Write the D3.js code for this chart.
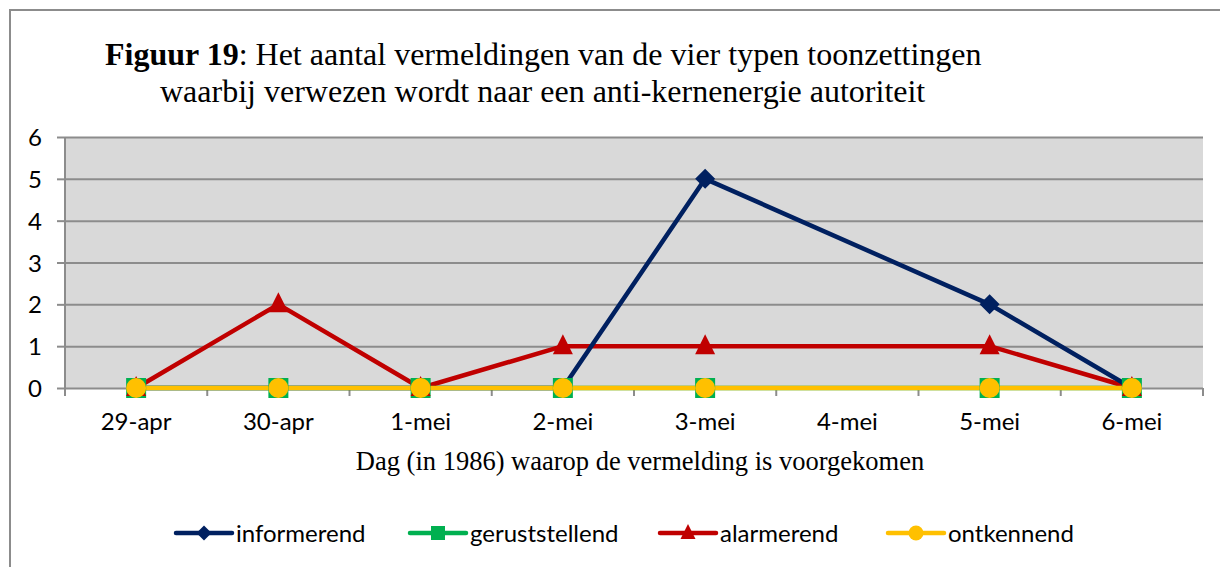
<!DOCTYPE html>
<html>
<head>
<meta charset="utf-8">
<script src="https://cdn.jsdelivr.net/npm/d3@7"></script>
<style>
  body { margin: 0; background: #fff; }
  svg { display: block; }
</style>
</head>
<body>
<div id="chart"></div>
<script>
var days = ["29-apr", "30-apr", "1-mei", "2-mei", "3-mei", "4-mei", "5-mei", "6-mei"];
var yTicks = [0, 1, 2, 3, 4, 5, 6];

// 4-mei has no values, the lines run straight over it
var informerend    = [0, 0, 0, 0, 5, null, 2, 0];
var geruststellend = [0, 0, 0, 0, 0, null, 0, 0];
var alarmerend     = [0, 2, 0, 1, 1, null, 1, 0];
var ontkennend     = [0, 0, 0, 0, 0, null, 0, 0];

var series = [
  { name: "informerend", values: informerend, color: "#002060", shape: "diamond", lineOrder: 2 },
  { name: "geruststellend", values: geruststellend, color: "#00b050", shape: "square", lineOrder: 0 },
  { name: "alarmerend", values: alarmerend, color: "#c00000", shape: "triangle", lineOrder: 1 },
  { name: "ontkennend", values: ontkennend, color: "#ffc000", shape: "circle", lineOrder: 3 }
];

var width = 1220, height = 567;
var plot = { left: 65, right: 1203, top: 137, bottom: 388 };
var sans = "Lato, 'Open Sans', sans-serif";
var serif = "'Liberation Serif', 'Times New Roman', serif";

var svg = d3.select("#chart").append("svg")
    .attr("width", width)
    .attr("height", height);

// frame
svg.append("path")
  .attr("d", "M10,567 L10,10 L1220,10")
  .attr("fill", "none")
  .attr("stroke", "#8c8c8c")
  .attr("stroke-width", 2);

// title
var title = svg.append("text")
  .attr("font-family", serif)
  .attr("font-size", 32)
  .attr("fill", "#000");
title.append("tspan").attr("x", 105).attr("y", 65).attr("font-weight", "bold").text("Figuur 19");
title.append("tspan").text(": Het aantal vermeldingen van de vier typen toonzettingen");
title.append("tspan").attr("x", 160).attr("y", 102).text("waarbij verwezen wordt naar een anti-kernenergie autoriteit");

var x = d3.scaleBand().domain(days).range([plot.left, plot.right]);
var y = d3.scaleLinear().domain([0, 6]).range([plot.bottom, plot.top]);

// plot background
svg.append("rect")
  .attr("x", plot.left).attr("y", plot.top)
  .attr("width", plot.right - plot.left)
  .attr("height", plot.bottom - plot.top)
  .attr("fill", "#d9d9d9");

// y axis with gridlines
var yAxis = svg.append("g")
  .attr("transform", "translate(" + plot.left + ",0)")
  .call(d3.axisLeft(y).tickValues(yTicks).tickSize(8).tickPadding(22).tickFormat(d3.format("d")));
yAxis.select(".domain").remove();
yAxis.selectAll(".tick line").attr("stroke", "#8c8c8c").attr("stroke-width", 2);
yAxis.selectAll(".tick").append("line")
  .attr("x1", 0).attr("x2", plot.right - plot.left)
  .attr("stroke", "#8c8c8c").attr("stroke-width", 2);
yAxis.selectAll("text")
  .attr("font-family", sans)
  .attr("font-size", 24)
  .attr("fill", "#000")
  .attr("text-anchor", "middle")
  .attr("dy", "0.36em");

// y axis line, runs down to the tick length
svg.append("line")
  .attr("x1", plot.left).attr("x2", plot.left)
  .attr("y1", plot.top).attr("y2", plot.bottom + 8)
  .attr("stroke", "#8c8c8c").attr("stroke-width", 2);

// x axis: ticks between the categories
var xAxis = svg.append("g")
  .attr("transform", "translate(0," + plot.bottom + ")")
  .call(d3.axisBottom(x).tickSize(0).tickPadding(24));
xAxis.select(".domain").remove();
xAxis.selectAll("text")
  .attr("font-family", sans)
  .attr("font-size", 24)
  .attr("fill", "#000")
  .attr("y", 42)
  .attr("dy", null);
svg.append("g").selectAll("line")
  .data(days)
  .enter().append("line")
  .attr("x1", function(d) { return x(d) + x.bandwidth(); })
  .attr("x2", function(d) { return x(d) + x.bandwidth(); })
  .attr("y1", plot.bottom)
  .attr("y2", plot.bottom + 8)
  .attr("stroke", "#8c8c8c").attr("stroke-width", 2);

svg.append("text")
  .attr("x", (plot.left + plot.right) / 2 + 6)
  .attr("y", 470)
  .attr("text-anchor", "middle")
  .attr("font-family", serif)
  .attr("font-size", 26.5)
  .attr("fill", "#000")
  .text("Dag (in 1986) waarop de vermelding is voorgekomen");

function markerPath(shape, s) {
  if (shape === "diamond") return "M0," + (-s) + "L" + s + ",0L0," + s + "L" + (-s) + ",0Z";
  if (shape === "square") return "M" + (-s) + "," + (-s) + "H" + s + "V" + s + "H" + (-s) + "Z";
  if (shape === "triangle") return "M0," + (-s * 1.2) + "L" + s + "," + (s * 0.8) + "L" + (-s) + "," + (s * 0.8) + "Z";
  return d3.arc()({ innerRadius: 0, outerRadius: s, startAngle: 0, endAngle: 2 * Math.PI });
}
var markerSize = { diamond: 10, square: 10, triangle: 10, circle: 10 };

var cx = function(i) { return x(days[i]) + x.bandwidth() / 2; };
var line = d3.line()
  .x(function(d) { return cx(d.i); })
  .y(function(d) { return y(d.v); });

// lines
var lineSeries = series.slice().sort(function(a, b) { return a.lineOrder - b.lineOrder; });
lineSeries.forEach(function(s) {
  var pts = s.values.map(function(v, i) { return { i: i, v: v }; })
    .filter(function(d) { return d.v !== null; });
  svg.append("path")
    .datum(pts)
    .attr("d", line)
    .attr("fill", "none")
    .attr("stroke", s.color)
    .attr("stroke-width", 4.5)
    .attr("stroke-linejoin", "round");
});

// markers
["diamond", "square", "triangle", "circle"].forEach(function(shape) {
  var s = series.filter(function(d) { return d.shape === shape; })[0];
  var pts = s.values.map(function(v, i) { return { i: i, v: v }; })
    .filter(function(d) { return d.v !== null; });
  svg.append("g").selectAll("path")
    .data(pts)
    .enter().append("path")
    .attr("transform", function(d) { return "translate(" + cx(d.i) + "," + y(d.v) + ")"; })
    .attr("d", markerPath(shape, markerSize[shape]))
    .attr("fill", s.color);
});

// legend
var legendX = [176, 410, 660, 888];
var legend = svg.append("g").selectAll("g")
  .data(series)
  .enter().append("g")
  .attr("transform", function(d, i) { return "translate(" + legendX[i] + ",533)"; });
legend.append("line")
  .attr("x1", 0).attr("x2", 56)
  .attr("stroke", function(d) { return d.color; })
  .attr("stroke-width", 4.5)
  .attr("stroke-linecap", "round");
legend.append("path")
  .attr("transform", "translate(28,0)")
  .attr("d", function(d) { return markerPath(d.shape, d.shape === "square" ? 7 : 7.5); })
  .attr("fill", function(d) { return d.color; });
legend.append("text")
  .attr("x", 60)
  .attr("y", 8.5)
  .attr("font-family", sans)
  .attr("font-size", 24)
  .attr("fill", "#000")
  .text(function(d) { return d.name; });
</script>
</body>
</html>
